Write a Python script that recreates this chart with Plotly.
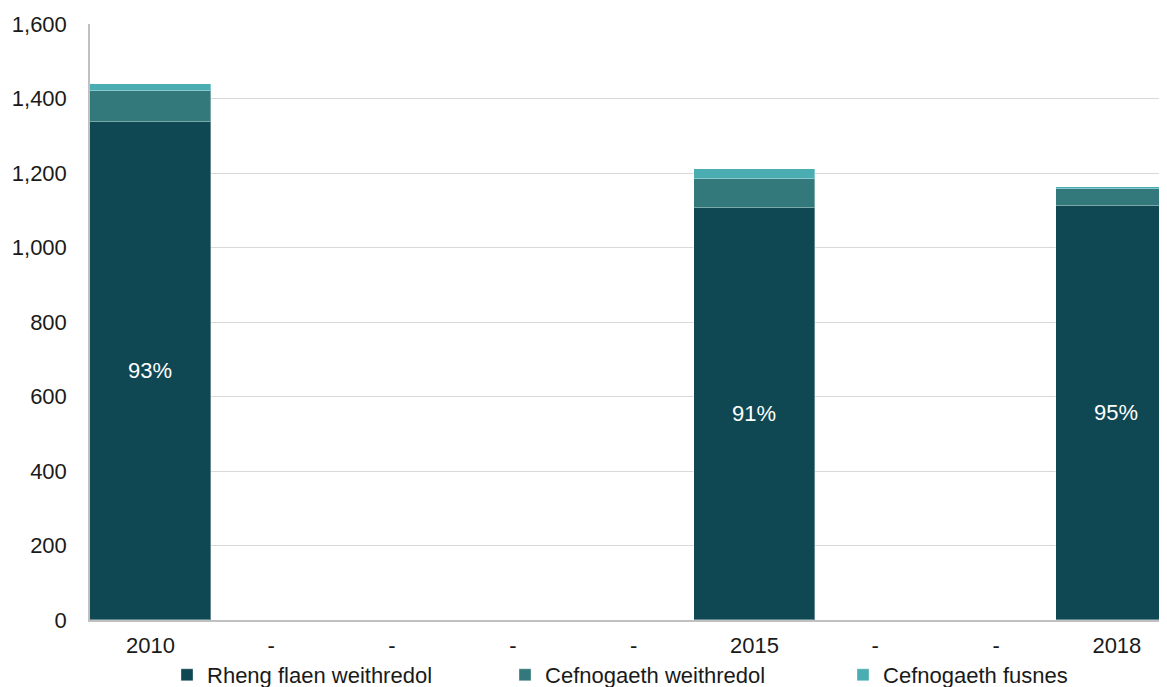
import plotly.graph_objects as go

categories = ["2010", "-", "-", "-", "-", "2015", "-", "-", "2018"]
rheng_flaen = [1338, None, None, None, None, 1105, None, None, 1112]
cefn_weithredol = [81, None, None, None, None, 78, None, None, 44]
cefn_fusnes = [20, None, None, None, None, 28, None, None, 7]
pct_labels = ["93%", "", "", "", "", "91%", "", "", "95%"]

x = list(range(len(categories)))
FONT = "Liberation Sans, Arial, sans-serif"
edge = dict(color="rgba(255,255,255,0.35)", width=1)

fig = go.Figure()
fig.add_trace(go.Bar(
    x=x, y=rheng_flaen, name="Rheng flaen weithredol",
    marker=dict(color="#0F4752", line=edge),
    text=pct_labels, textposition="inside", insidetextanchor="middle",
    textfont=dict(color="white", size=22, family=FONT), textangle=0,
))
fig.add_trace(go.Bar(
    x=x, y=cefn_weithredol, name="Cefnogaeth weithredol",
    marker=dict(color="#33787A", line=edge),
))
fig.add_trace(go.Bar(
    x=x, y=cefn_fusnes, name="Cefnogaeth fusnes",
    marker=dict(color="#4AADB2", line=edge),
))

fig.update_layout(
    barmode="stack", bargap=0,
    width=1159, height=679,
    margin=dict(l=82, r=0, t=16, b=67, autoexpand=False),
    paper_bgcolor="white", plot_bgcolor="white",
    font=dict(family=FONT, size=22, color="#1a1a1a"),
    showlegend=True,
    legend=dict(
        orientation="h", x=0.0715, xanchor="left", y=-0.057, yanchor="top",
        entrywidth=293, entrywidthmode="pixels",
        bgcolor="rgba(0,0,0,0)",
        font=dict(size=22, family=FONT, color="#1a1a1a"),
        itemwidth=30, tracegroupgap=0, traceorder="normal",
    ),
    xaxis=dict(
        tickmode="array", tickvals=x, ticktext=categories,
        range=[-0.5, 8.415], showgrid=False, ticks="",
        showline=True, linecolor="#c0c0c0", linewidth=1.5,
        tickfont=dict(size=22), fixedrange=True, automargin=False,
        ticklabelstandoff=5,
    ),
    yaxis=dict(
        range=[0, 1600], dtick=200, tickformat=",",
        showgrid=True, gridcolor="#d9d9d9", gridwidth=1,
        showline=True, linecolor="#c0c0c0", linewidth=1.5,
        ticks="", ticklabelstandoff=17, tickfont=dict(size=22),
        zeroline=False, automargin=False,
    ),
)

fig.write_html("out.html")
